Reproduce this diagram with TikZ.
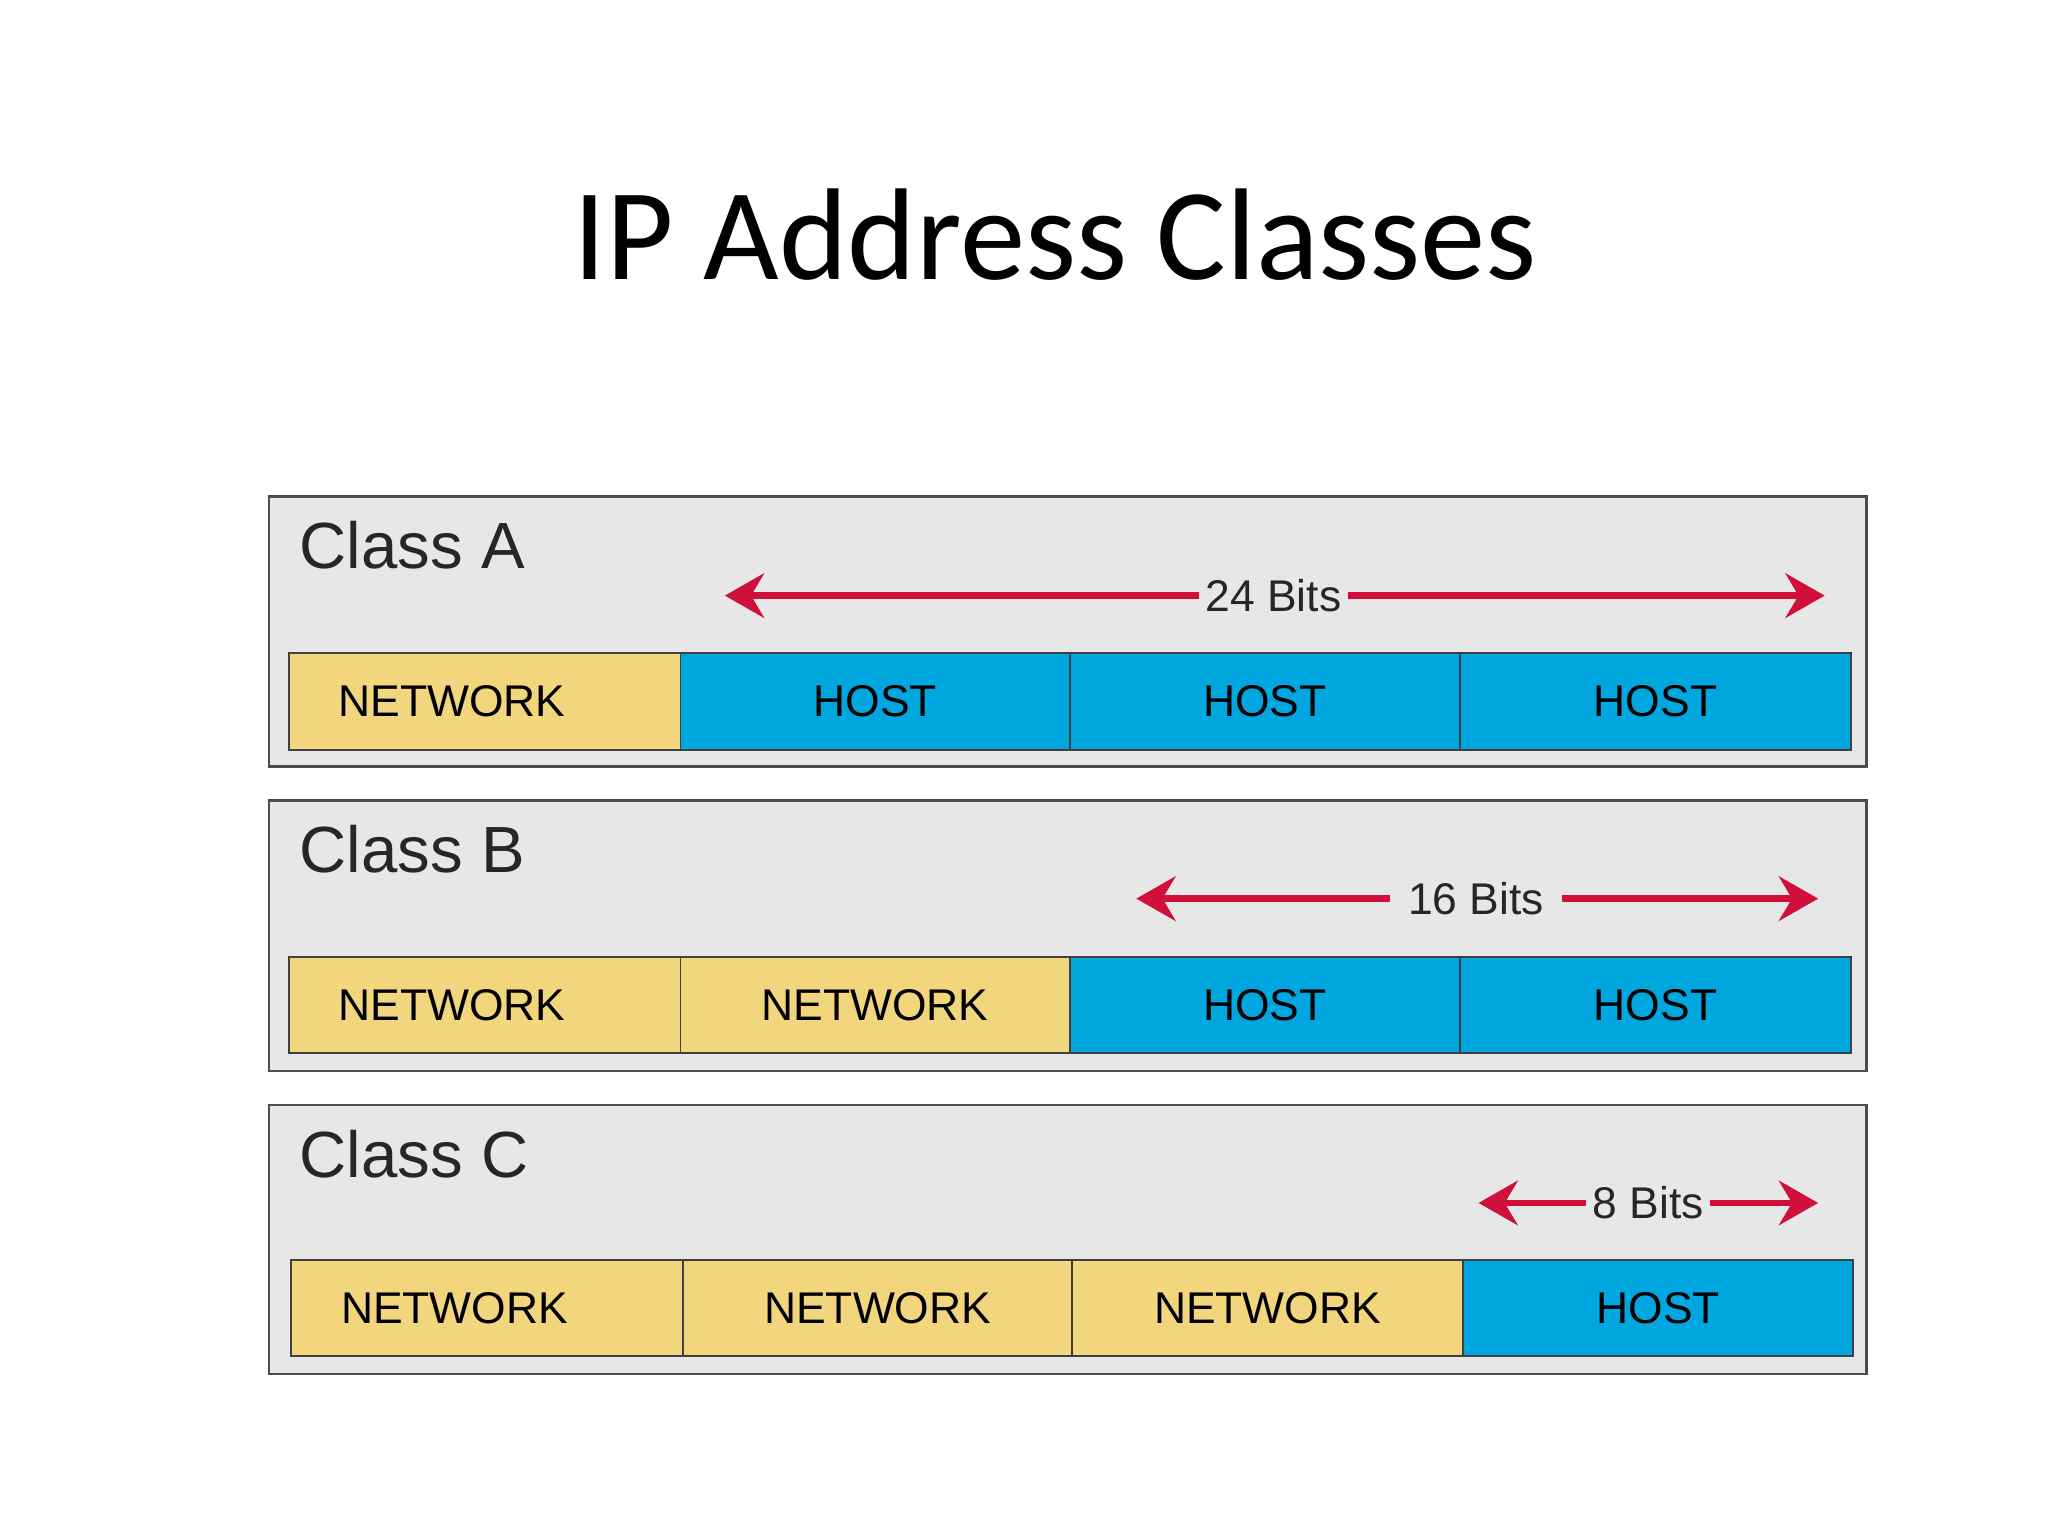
\documentclass[tikz,border=0pt]{standalone}
\usepackage{fontspec}
\setmainfont{Liberation Sans}
\newfontfamily\titlefont{Carlito}
\usetikzlibrary{arrows.meta}
\definecolor{netc}{HTML}{F2D67E}
\definecolor{hostc}{HTML}{00A6DE}
\definecolor{panelc}{HTML}{E8E7E8}
\definecolor{arrc}{HTML}{D0103A}
\begin{document}
\begin{tikzpicture}[x=1pt,y=-1pt,
 panel/.style={draw=black!70,line width=2pt,fill=panelc},
 cell/.style={draw=black!75,line width=1.5pt,font=\fontsize{34}{34}\selectfont},
 net/.style={cell,fill=netc},
 host/.style={cell,fill=hostc},
 cls/.style={anchor=west,font=\fontsize{50}{50}\selectfont,text=black!85},
 bits/.style={font=\fontsize{34}{34}\selectfont,fill=panelc,inner xsep=5pt,text=black!85},
 arr/.style={draw=arrc,line width=5pt,arrows={Stealth[length=30pt,width=34pt,inset=10pt]-Stealth[length=30pt,width=34pt,inset=10pt]}}]
\useasboundingbox (0,0) rectangle (1568,1176);
\fill[white] (0,0) rectangle (1568,1176);
\node[font=\titlefont\fontsize{100}{100}\selectfont] (title) at (808,180) {IP Address Classes};
% Class A
\draw[panel] (206,380) rectangle (1429,587);
\node[cls] (ca) at (226,417) {Class A};
\coordinate (a1) at (555,456); \coordinate (a2) at (1397,456);
\draw[arr] (a1) -- (a2);
\node[bits] (ba) at (975,456) {24 Bits};
\path[net] (221,500) rectangle node[pos=.5,xshift=-25pt] (an1) {NETWORK} (521,574);
\path[host] (521,500) rectangle node (ah1) {HOST} (819,574);
\path[host] (819,500) rectangle node (ah2) {HOST} (1118,574);
\path[host] (1118,500) rectangle node (ah3) {HOST} (1417,574);
% Class B
\draw[panel] (206,613) rectangle (1429,820);
\node[cls] (cb) at (226,650) {Class B};
\coordinate (b1) at (870,688); \coordinate (b2) at (1392,688);
\draw[arr] (b1) -- (b2);
\node[bits,inner xsep=14pt] (bb) at (1130,688) {16 Bits};
\path[net] (221,733) rectangle node[pos=.5,xshift=-25pt] (bn1) {NETWORK} (521,806);
\path[net] (521,733) rectangle node (bn2) {NETWORK} (819,806);
\path[host] (819,733) rectangle node (bh1) {HOST} (1118,806);
\path[host] (1118,733) rectangle node (bh2) {HOST} (1417,806);
% Class C
\draw[panel] (206,846) rectangle (1429,1052);
\node[cls] (cc) at (226,884) {Class C};
\coordinate (c1) at (1132,921); \coordinate (c2) at (1392,921);
\draw[arr] (c1) -- (c2);
\node[bits] (bc) at (1262,921) {8 Bits};
\path[net] (223,965) rectangle node[pos=.5,xshift=-25pt] (cn1) {NETWORK} (523,1038);
\path[net] (523,965) rectangle node (cn2) {NETWORK} (821,1038);
\path[net] (821,965) rectangle node (cn3) {NETWORK} (1120,1038);
\path[host] (1120,965) rectangle node (ch1) {HOST} (1419,1038);
\end{tikzpicture}
\end{document}
